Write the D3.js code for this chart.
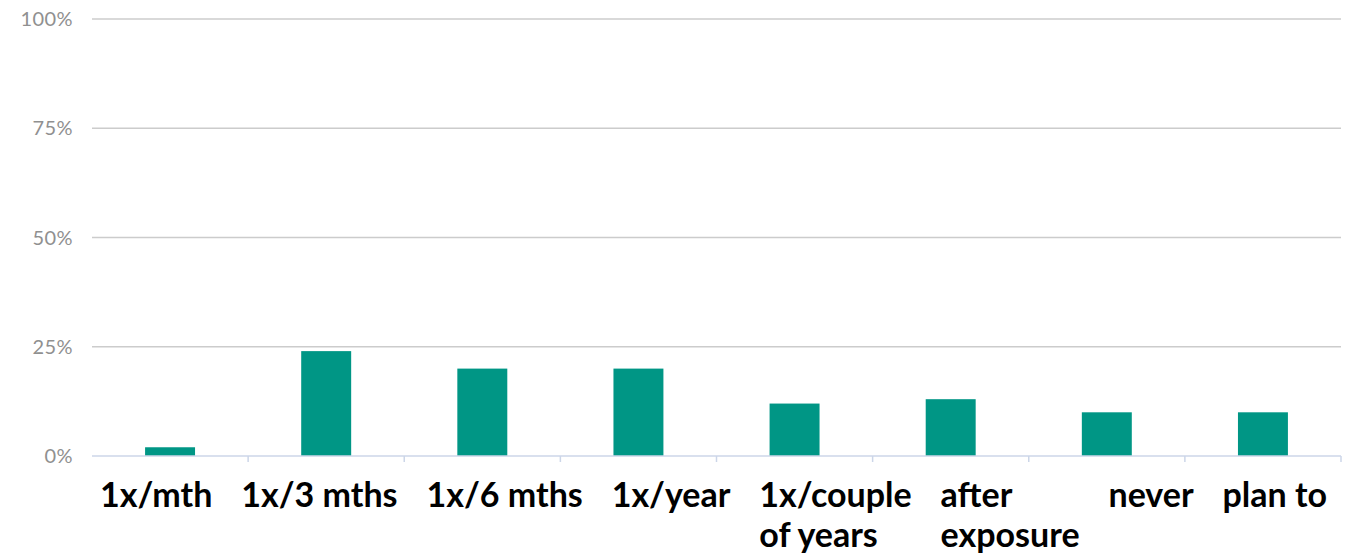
<!DOCTYPE html>
<html><head><meta charset="utf-8">
<script src="https://cdn.jsdelivr.net/npm/d3@7"></script>
<style>body{margin:0;background:#fff}svg{display:block}</style>
</head><body>
<svg id="c" width="1356" height="560"></svg>
<script>
const categories = ["1x/mth", "1x/3 mths", "1x/6 mths", "1x/year", "1x/couple\nof years", "after\nexposure", "never", "plan to"];
const values = [2, 24, 20, 20, 12, 13, 10, 10];
const yTicks = [0, 25, 50, 75, 100];

const svg = d3.select("#c");
const m = {left: 92, right: 15, top: 19, bottom: 104};
const W = 1356, H = 560;
const x = d3.scaleBand().domain(categories).range([m.left, W - m.right]).paddingInner(0.68).paddingOuter(0.34);
const xb = d3.scaleBand().domain(categories).range([m.left, W - m.right]);
const y = d3.scaleLinear().domain([0, 100]).range([H - m.bottom, m.top]);

// gridlines
svg.append("g").selectAll("line").data(yTicks.filter(d => d > 0)).join("line")
  .attr("x1", m.left).attr("x2", W - m.right)
  .attr("y1", d => y(d)).attr("y2", d => y(d))
  .attr("stroke", "#cccccc").attr("stroke-width", 1.5);

// y labels
svg.append("g").selectAll("text").data(yTicks).join("text")
  .attr("x", 73).attr("y", d => y(d)).attr("dy", "0.35em")
  .attr("text-anchor", "end")
  .attr("font-family", "Lato, sans-serif").attr("font-size", 20)
  .attr("letter-spacing", 0.4)
  .attr("fill", "#909090").text(d => d + "%");

// bars
svg.append("g").selectAll("rect").data(values).join("rect")
  .attr("x", (d, i) => x(categories[i])).attr("width", x.bandwidth())
  .attr("y", d => y(d)).attr("height", d => y(0) - y(d))
  .attr("fill", "#009685");

// baseline + ticks
const base = svg.append("g");
base.append("line").attr("x1", m.left).attr("x2", W - m.right)
  .attr("y1", y(0)).attr("y2", y(0)).attr("stroke", "#ccd6e8").attr("stroke-width", 1.5);
base.selectAll("line.t").data(categories).join("line").attr("class", "t")
  .attr("x1", d => xb(d) + xb.bandwidth()).attr("x2", d => xb(d) + xb.bandwidth())
  .attr("y1", y(0)).attr("y2", y(0) + 6).attr("stroke", "#ccd6e8").attr("stroke-width", 1.5);

// x labels: justified across the plot width
const lbl = svg.append("g").selectAll("text").data(categories).join("text")
  .attr("font-family", "Lato, sans-serif").attr("font-weight", "bold")
  .attr("font-size", 34).attr("fill", "#000")
  .attr("y", 507);
const widths = [];
lbl.each(function(d) {
  const t = d3.select(this);
  d.split("\n").forEach((l, i) => t.append("tspan").text(l).attr("dy", i ? 40 : 0));
  widths.push(Math.max(...Array.from(this.childNodes).map(n => n.getComputedTextLength())));
});
const x0 = m.left + 8, x1 = W - m.right - 14;
const gap = (x1 - x0 - d3.sum(widths)) / (categories.length - 1);
let cur = x0;
lbl.each(function(d, i) {
  d3.select(this).selectAll("tspan").attr("x", cur);
  cur += widths[i] + gap;
});
</script>
</body></html>
